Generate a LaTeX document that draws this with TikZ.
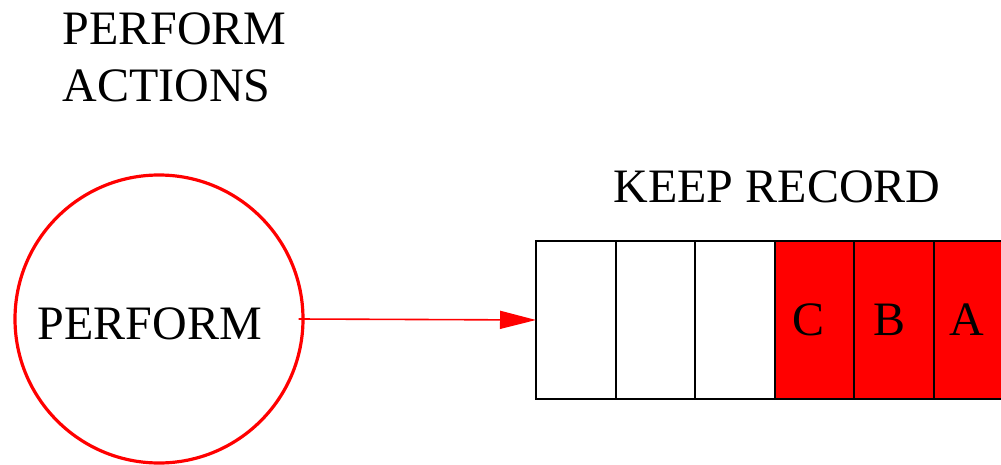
\documentclass[tikz,border=0pt]{standalone}
\usepackage{fontspec}
\setmainfont{Liberation Serif}
\usetikzlibrary{arrows.meta,positioning}

\tikzset{
  cell/.style={draw,line width=1pt,minimum width=39.75pt,minimum height=79pt,inner sep=0pt,outer sep=0pt},
  full/.style={cell,fill=red},
}

\begin{document}
\begin{tikzpicture}[x=0.5pt,y=-0.5pt,font=\fontsize{24}{28.5}\selectfont]
      \clip (0,0) rectangle (1001,465);
      \fill[white] (0,0) rectangle (1001,465);
      \node[anchor=base west,align=left,inner sep=0pt] (actions) at (62,102) {PERFORM\\ACTIONS};
      \node[anchor=base,inner sep=0pt] (record) at (777,202) {KEEP RECORD};
      \node[circle,draw=red,line width=1.6pt,minimum size=144pt,inner sep=0pt] (perform) at (159,319) {};
      \node[anchor=base,inner sep=0pt] (performtext) at (150,339) {PERFORM};
      % record cells, filled from the right
      \node[cell,anchor=west] (c1) at (536,320) {};
      \node[cell,right=0pt of c1] (c2) {};
      \node[cell,right=0pt of c2] (c3) {};
      \node[full,right=0pt of c3] (c4) {\hspace{-6pt}C};
      \node[full,right=0pt of c4] (c5) {\hspace{-4pt}B};
      \node[full,right=0pt of c5] (c6) {\hspace{-6pt}A};
      \draw[red,line width=0.8pt,-{Triangle[length=18pt,width=9pt]}] ([xshift=-3pt]perform.east) -- (c1.west);
    \end{tikzpicture}
\end{document}
